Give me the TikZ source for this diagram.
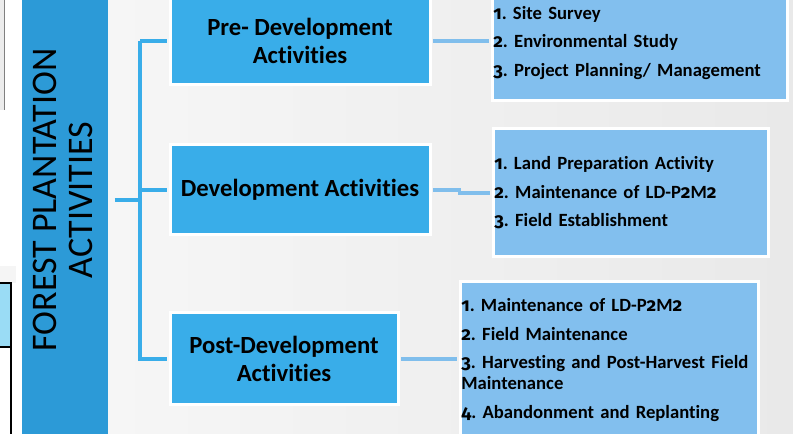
\documentclass[tikz,border=0pt]{standalone}
\usepackage{fontspec}
\setmainfont{Carlito}[Ligatures=NoCommon]
\newfontfamily\oldnums{Fira Sans}[Numbers=OldStyle]
\newcommand\onum[1]{{\oldnums #1}}
\usetikzlibrary{calc,positioning}
\frenchspacing

\definecolor{barblue}{HTML}{2C9AD7}
\definecolor{stageblue}{HTML}{39ADE9}
\definecolor{listblue}{HTML}{82BFEE}
\definecolor{linkblue}{HTML}{80BEEC}
\definecolor{bgleft}{HTML}{F6F6F6}
\definecolor{bgright}{HTML}{E9E9E9}
\definecolor{fragblue}{HTML}{9ADCF5}

\begin{document}
\begin{tikzpicture}[
    x=0.75pt, y=-0.75pt,
    % Node styles
    titlebar/.style={fill=barblue, minimum width=64.5pt, minimum height=325.5pt, inner sep=0},
    heading/.style={rotate=90, align=center, font=\fontsize{27}{27}\selectfont},
    stage/.style={draw=white, line width=2.25pt, fill=stageblue, align=center, inner sep=0,
        font=\bfseries\fontsize{18.5}{21}\selectfont},
    tasks/.style={draw=white, line width=2.25pt, fill=listblue, align=left, inner xsep=1pt, inner ysep=0,
        font=\bfseries\fontsize{14}{15.75}\selectfont},
    trunk/.style={draw=stageblue, line width=2.4pt, shorten >=1.1pt},
    link/.style={draw=linkblue, line width=2.4pt, shorten <=1.1pt, shorten >=1.1pt},
]

    % Canvas
    \clip (0,0) rectangle (793,434);
    \fill[white] (0,0) rectangle (793,434);
    \shade[left color=bgleft, right color=bgright] (108,0) rectangle (793,434);

    % Cropped neighbour figure on the left edge
    \fill[gray!15] (0,0) rectangle (4,110);
    \draw[gray, line width=0.6pt] (4,0) -- (4,110);
    \fill[gray!8] (0,266) rectangle (16,283);
    \draw[fill=fragblue, line width=0.8pt] (-2,283) rectangle (11,347);
    \draw[fill=white, line width=0.8pt] (-2,347) rectangle (11,440);

    % Title bar
    \node[titlebar] (bar) at (65,217) {};
    \node[heading] (title) at (63,200) {FOREST PLANTATION\\ACTIVITIES};

    % Stages
    \node[stage, minimum width=195pt, minimum height=66pt] (pre) at (300,41) {Pre- Development\\Activities};
    \node[stage, minimum width=195pt, minimum height=67.5pt] (dev) at (300,190) {Development Activities};
    \node[stage, minimum width=171pt, minimum height=69pt] (post) at (284,359) {Post-Development\\Activities};

    % Task lists
    \node[tasks, text width=219.25pt, minimum height=87pt] (prelist) at (639.5,43)
        {\onum{1}. Site Survey\\[5.6pt]\onum{2}. Environmental Study\\[5.6pt]\onum{3}. Project Planning/ Management};
    \node[tasks, text width=204.25pt, minimum height=96pt] (devlist) at (630.5,193)
        {\onum{1}. Land Preparation Activity\\[5.6pt]\onum{2}. Maintenance of LD-P\onum{2}M\onum{2}\\[5.6pt]\onum{3}. Field Establishment};
    \node[tasks, text width=221.5pt, minimum height=117pt] (postlist) at (609,360)
        {\onum{1}. Maintenance of LD-P\onum{2}M\onum{2}\\[5.6pt]\onum{2}. Field Maintenance\\[5.6pt]\onum{3}. Harvesting and Post-Harvest Field\\Maintenance\\[5.6pt]\onum{4}. Abandonment and Replanting};

    % Bracket
    \coordinate (hub) at (140,200);
    \draw[trunk, shorten >=0pt] ([xshift=5]bar.east |- hub) -- (hub);
    \draw[trunk] (pre.west -| hub) -- (post.west -| hub) -- (post.west);
    \draw[trunk] (pre.west -| hub) -- (pre.west);
    \draw[trunk] (dev.west -| hub) -- (dev.west);

    % Connections
    \draw[link] (pre.east) -- (prelist.west |- pre.east);
    \draw[link] (dev.east) -- ++(28,0) |- (devlist.west);
    \draw[link] (post.east) -- (postlist.west |- post.east);

\end{tikzpicture}
\end{document}
